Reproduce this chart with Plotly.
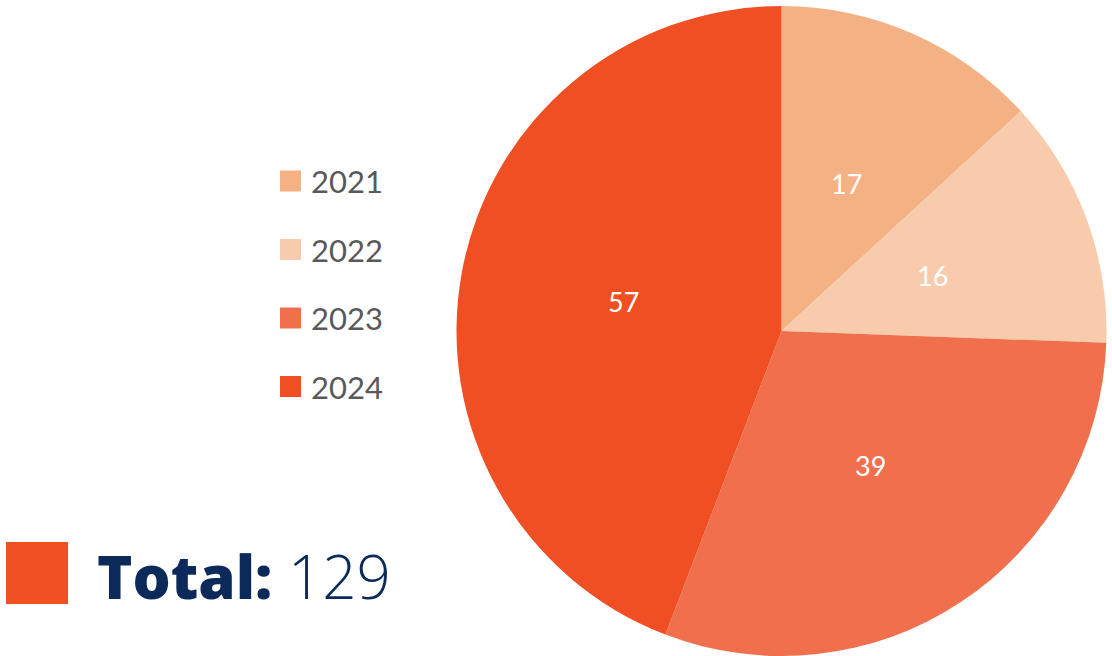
import math
import plotly.graph_objects as go

years = ["2021", "2022", "2023", "2024"]
counts = [17, 16, 39, 57]
colors = ["#F4B183", "#F8CBAD", "#F0704D", "#F04E23"]
total_label = "Total:"
total_value = sum(counts)

W, H = 1112, 656
cx, cy, R = 781.5, 331, 325

fig = go.Figure()
fig.add_trace(go.Pie(
    labels=years, values=counts, sort=False, direction="clockwise", rotation=0,
    marker=dict(colors=colors, line=dict(width=0)),
    textinfo="none",
    domain=dict(x=[(cx - R) / W, (cx + R) / W], y=[1 - (cy + R) / H, 1 - (cy - R) / H]),
    showlegend=False, hoverinfo="label+value+percent",
))

shapes = []
annotations = []

# slice value labels at half radius along each slice's mid-angle
cum = 0
tot = sum(counts)
for v in counts:
    mid = (cum + v / 2) / tot * 2 * math.pi
    cum += v
    r = 0.495 * R
    px = cx + r * math.sin(mid)
    py = cy - r * math.cos(mid)
    annotations.append(dict(text=str(v), xref="paper", yref="paper", x=px / W, y=1 - py / H,
                            xanchor="center", yanchor="middle", showarrow=False,
                            font=dict(family="Lato, Open Sans, sans-serif", size=27, color="white")))

leg_y0 = 181
leg_dy = 68.5
for i, (yr, col) in enumerate(zip(years, colors)):
    yc = leg_y0 + i * leg_dy
    shapes.append(dict(type="rect", xref="paper", yref="paper",
                       x0=280 / W, x1=301 / W, y0=1 - (yc + 10.5) / H, y1=1 - (yc - 10.5) / H,
                       fillcolor=col, line=dict(width=0)))
    annotations.append(dict(text=yr, xref="paper", yref="paper", x=309 / W, y=1 - yc / H,
                            xanchor="left", yanchor="middle", showarrow=False,
                            font=dict(family="Lato, Open Sans, sans-serif", size=31, color="#595959")))

shapes.append(dict(type="rect", xref="paper", yref="paper",
                   x0=6 / W, x1=68 / W, y0=1 - 604 / H, y1=1 - 542 / H,
                   fillcolor="#F04E23", line=dict(width=0)))
annotations.append(dict(
    text=(f"<span style='font-weight:800'>{total_label}</span> "
          f"<span style='font-weight:200'>{total_value}</span>"),
    xref="paper", yref="paper", x=95 / W, y=1 - 576 / H, xanchor="left", yanchor="middle",
    showarrow=False, font=dict(family="Open Sans, Lato, sans-serif", size=60, color="#0B2A5A")))

fig.update_layout(
    width=W, height=H, margin=dict(l=0, r=0, t=0, b=0),
    paper_bgcolor="white", plot_bgcolor="white",
    shapes=shapes, annotations=annotations,
)

html = fig.to_html(full_html=True, include_plotlyjs=True, config={"displayModeBar": False})
html = html.replace("<body>", "<body style=\"margin:0;padding:0;overflow:hidden\">", 1)
html = html.replace("<head>", "<head><style>html,body{margin:0;padding:0;overflow:hidden}</style>", 1)
with open("out.html", "w", encoding="utf-8") as f:
    f.write(html)
